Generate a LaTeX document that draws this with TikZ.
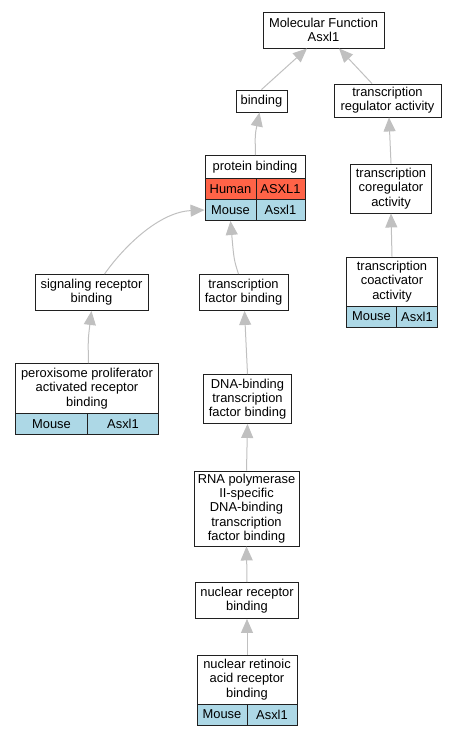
\documentclass[tikz,border=0pt]{standalone}
\usepackage{fontspec}
\setmainfont{Liberation Sans}
\usetikzlibrary{arrows.meta}
\definecolor{edgegray}{HTML}{C0C0C0}
\definecolor{humanred}{HTML}{FF6347}
\definecolor{mouseblue}{HTML}{ADD8E6}
\definecolor{bordergray}{HTML}{202020}
\tikzset{
  box/.style={draw=bordergray, line width=0.9pt, fill=white, inner sep=0pt, align=center,
    font=\fontsize{12.9}{14.3}\selectfont},
  humancell/.style={box, fill=humanred},
  mousecell/.style={box, fill=mouseblue},
  edge/.style={draw=edgegray, line width=1pt, -{Triangle[length=14pt,width=12pt]}}
}
\begin{document}
\begin{tikzpicture}[x=1pt,y=-1pt]
\useasboundingbox (0,0) rectangle (457,736);
% top
\node[box, minimum width=121pt, minimum height=36pt] (mf) at (323.5,30) {Molecular Function\\Asxl1};
\node[box, minimum width=51pt, minimum height=22pt] (bind) at (261.5,101) {binding};
\node[box, minimum width=107pt, minimum height=33pt] (tra) at (387.5,100.5) {transcription\\regulator activity};
% protein binding table
\node[box, minimum width=100pt, minimum height=23pt] (pb) at (255,167) {protein binding};
\node[humancell, minimum width=51pt, minimum height=21pt] (pbh1) at (230.5,189) {Human};
\node[humancell, minimum width=49pt, minimum height=21pt] (pbh2) at (280.5,189) {ASXL1};
\node[mousecell, minimum width=51pt, minimum height=21pt] (pbm1) at (230.5,210) {Mouse};
\node[mousecell, minimum width=49pt, minimum height=21pt] (pbm2) at (280.5,210) {Asxl1};
% coregulator / coactivator
\node[box, minimum width=81pt, minimum height=49pt] (coreg) at (391,188.5) {transcription\\coregulator\\activity};
\node[box, minimum width=91pt, minimum height=49pt] (coact) at (392,281.5) {transcription\\coactivator\\activity};
\node[mousecell, minimum width=50pt, minimum height=21pt] (coactm1) at (371.5,316.5) {Mouse};
\node[mousecell, minimum width=41pt, minimum height=21pt] (coactm2) at (417,316.5) {Asxl1};
% middle row
\node[box, minimum width=113pt, minimum height=36pt] (sig) at (91.5,292.5) {signaling receptor\\binding};
\node[box, minimum width=89pt, minimum height=36pt] (tfb) at (243.5,292.5) {transcription\\factor binding};
% peroxisome table
\node[box, minimum width=143pt, minimum height=50pt] (perox) at (87,388.5) {peroxisome proliferator\\activated receptor\\binding};
\node[mousecell, minimum width=72pt, minimum height=21pt] (peroxm1) at (51.5,424) {Mouse};
\node[mousecell, minimum width=71pt, minimum height=21pt] (peroxm2) at (123,424) {Asxl1};
% chain
\node[box, minimum width=88pt, minimum height=49pt] (dna) at (247.5,399) {DNA-binding\\transcription\\factor binding};
\node[box, minimum width=105pt, minimum height=75pt] (rna) at (246.5,508.5) {RNA polymerase\\II-specific\\DNA-binding\\transcription\\factor binding};
\node[box, minimum width=103pt, minimum height=36pt] (nrb) at (247,600.5) {nuclear receptor\\binding};
\node[box, minimum width=100pt, minimum height=49pt] (nra) at (247,679.5) {nuclear retinoic\\acid receptor\\binding};
\node[mousecell, minimum width=50pt, minimum height=21pt] (nram1) at (222,714.5) {Mouse};
\node[mousecell, minimum width=50pt, minimum height=21pt] (nram2) at (272,714.5) {Asxl1};
% edges
\draw[edge] (bind.north) -- ([xshift=-16.5pt]mf.south);
\draw[edge] ([xshift=-15.5pt]tra.north) -- ([xshift=15.5pt]mf.south);
\draw[edge] ([xshift=0.5pt]pb.north) .. controls (255,135) .. ([xshift=-2pt]bind.south);
\draw[edge] (coreg.north) -- ([xshift=1.5pt]tra.south);
\draw[edge] (coact.north) -- (coreg.south);
\draw[edge] ([xshift=13pt]sig.north) .. controls (125,245) and (160,212) .. (pbm1.west);
\draw[edge] ([xshift=-5pt]tfb.north) .. controls (234,260) .. (pbm1.south);
\draw[edge] ([xshift=1.5pt]perox.north) .. controls (88,340) .. (sig.south);
\draw[edge] (dna.north) -- ([xshift=1pt]tfb.south);
\draw[edge] (rna.north) -- (dna.south);
\draw[edge] (nrb.north) -- (rna.south);
\draw[edge] (nra.north) -- (nrb.south);
\end{tikzpicture}
\end{document}
